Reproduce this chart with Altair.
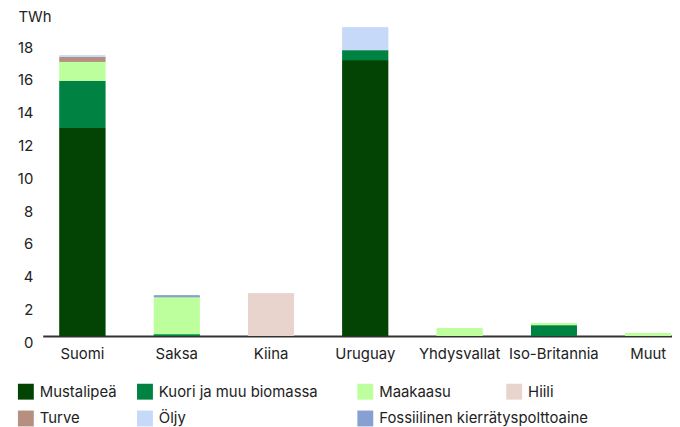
import altair as alt
import pandas as pd

countries = ["Suomi", "Saksa", "Kiina", "Uruguay", "Yhdysvallat", "Iso-Britannia", "Muut"]
sources = ["Mustalipeä", "Kuori ja muu biomassa", "Maakaasu", "Hiili", "Turve", "Öljy",
           "Fossiilinen kierrätyspolttoaine"]
colors = ["#034303", "#008242", "#bcff9c", "#e8d4cc", "#b68f80", "#c6d9f8", "#87a0d2"]

mustalipea = [12.7, 0, 0, 16.85, 0, 0, 0]
kuori = [2.88, 0.12, 0, 0.6, 0, 0.67, 0]
maakaasu = [1.17, 2.26, 0, 0, 0.48, 0.12, 0.18]
hiili = [0, 0, 2.6, 0, 0, 0, 0]
turve = [0.3, 0, 0, 0, 0, 0, 0]
oljy = [0.08, 0, 0, 1.4, 0, 0, 0]
fossiilinen = [0, 0.1, 0, 0, 0, 0, 0]
y_ticks = [0, 2, 4, 6, 8, 10, 12, 14, 16, 18]

series = [mustalipea, kuori, maakaasu, hiili, turve, oljy, fossiilinen]
rows = []
for i, (src, vals) in enumerate(zip(sources, series)):
    for c, v in zip(countries, vals):
        if v > 0:
            rows.append({"maa": c, "lähde": src, "TWh": v, "järjestys": i})
df = pd.DataFrame(rows)

FONT = "Inter"
TXT = "#222222"

x_enc = alt.X(
    "maa:N", sort=countries, title=None,
    scale=alt.Scale(paddingInner=0.5158, paddingOuter=0.0947, align=0.944),
    axis=alt.Axis(labelAngle=0, ticks=False, domainColor="#333333", domainWidth=2,
                  labelFontSize=15, labelFont=FONT, labelColor=TXT, labelPadding=11,
                  grid=False, labelLimit=200),
)
y_enc = alt.Y(
    "TWh:Q", stack="zero",
    scale=alt.Scale(domain=[0, 19], nice=False),
    axis=alt.Axis(values=y_ticks, domain=False, ticks=False, grid=False,
                  labelFontSize=15, labelFont=FONT, labelColor=TXT, labelPadding=10,
                  labelOffset=6,
                  title="TWh", titleAngle=0, titleAlign="left", titleBaseline="middle",
                  titleX=-25, titleY=-8, titleFontSize=15, titleFont=FONT,
                  titleFontWeight="normal", titleColor=TXT),
)


def layer(values, lx, ly, columns, col_pad, direction):
    return alt.Chart(df).mark_bar().encode(
        x=x_enc,
        y=y_enc,
        color=alt.Color(
            "lähde:N",
            scale=alt.Scale(domain=sources, range=colors),
            legend=alt.Legend(
                values=values, title=None, orient="none", legendX=lx, legendY=ly,
                direction=direction,
                columns=columns, columnPadding=col_pad, rowPadding=11, padding=0,
                symbolType="square", symbolSize=256, symbolStrokeWidth=0,
                labelFontSize=15, labelFont=FONT, labelColor=TXT, labelOffset=6,
                labelLimit=300, gridAlign="each",
            ),
        ),
        order=alt.Order("järjestys:Q", sort="ascending"),
    )


chart = alt.layer(
    layer(["Mustalipeä", "Kuori ja muu biomassa", "Turve", "Öljy"], -25, 361.5, 2, 20, "horizontal"),
    layer(["Maakaasu", "Fossiilinen kierrätyspolttoaine"], 317, 361.5, 1, 20, "vertical"),
    layer(["Hiili"], 467, 361.5, 1, 20, "vertical"),
).resolve_scale(color="independent").properties(
    width=634, height=313.5,
    autosize=alt.AutoSizeParams(type="none"),
    padding={"left": 35, "top": 15.5, "right": 0, "bottom": 90},
    background="white",
).configure_view(stroke=None)

chart.save("out.html", embed_options={"renderer": "svg", "actions": False})
